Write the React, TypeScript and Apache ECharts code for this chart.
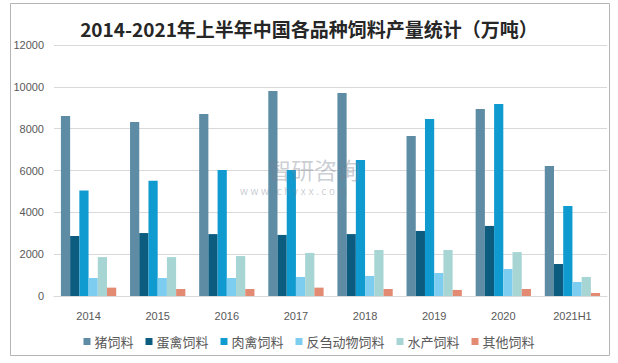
import React, { useEffect, useRef } from "react";
import * as echarts from "echarts";

const categories = ["2014", "2015", "2016", "2017", "2018", "2019", "2020", "2021H1"];
const seriesNames = ["猪饲料", "蛋禽饲料", "肉禽饲料", "反刍动物饲料", "水产饲料", "其他饲料"];
const pigFeed = [8600, 8320, 8700, 9800, 9700, 7650, 8940, 6220];
const layerFeed = [2870, 3010, 2960, 2920, 2960, 3110, 3350, 1530];
const broilerFeed = [5040, 5510, 6020, 6020, 6500, 8460, 9180, 4300];
const ruminantFeed = [860, 860, 860, 910, 960, 1100, 1290, 670];
const aquaFeed = [1860, 1860, 1910, 2060, 2200, 2200, 2100, 910];
const otherFeed = [400, 335, 335, 400, 335, 290, 335, 145];
const yTicks = [0, 2000, 4000, 6000, 8000, 10000, 12000];

const colors = ["#5e8ca5", "#0c5c80", "#109bd0", "#7dcdf0", "#a7d5d4", "#e38a72"];

export default function App() {
  const ref = useRef<HTMLDivElement>(null);
  useEffect(() => {
    if (!ref.current) return;
    const chart = echarts.init(ref.current, null, { renderer: "svg" });
    const values = [pigFeed, layerFeed, broilerFeed, ruminantFeed, aquaFeed, otherFeed];
    chart.setOption({
      animation: false,
      backgroundColor: "#ffffff",
      color: colors,
      title: {
        text: "2014-2021年上半年中国各品种饲料产量统计（万吨）",
        left: "center",
        top: 14,
        textStyle: {
          fontFamily: "'Noto Sans CJK SC', sans-serif",
          fontSize: 19,
          fontWeight: "bold",
          color: "#262626",
        },
      },
      graphic: [
        {
          type: "rect",
          shape: { x: 10.5, y: 3.5, width: 599, height: 352 },
          style: { fill: "none", stroke: "#b5b5b5", lineWidth: 1 },
          silent: true,
          z: 100,
        },
        {
          type: "text",
          left: 268,
          top: 157,
          style: {
            text: "智研咨询",
            fontSize: 23,
            fontFamily: "'Noto Sans CJK SC', sans-serif",
            fill: "rgba(120,130,145,0.4)",
          },
          z: 100,
          silent: true,
        },
        {
          type: "text",
          left: 240,
          top: 186,
          style: {
            text: "w w w . c h y x x . c o m",
            fontSize: 10,
            fontFamily: "'Noto Sans', sans-serif",
            fill: "rgba(120,130,145,0.4)",
          },
          z: 100,
          silent: true,
        },
      ],
      legend: {
        data: seriesNames,
        bottom: 10,
        left: "center",
        itemWidth: 7,
        itemHeight: 7,
        itemGap: 12,
        icon: "rect",
        textStyle: {
          fontSize: 13,
          color: "#595959",
          fontFamily: "'Noto Sans CJK SC', sans-serif",
          padding: [0, 0, 0, -1],
        },
      },
      grid: { left: 54, right: 11, top: 45, bottom: 67 },
      xAxis: {
        type: "category",
        data: categories,
        axisTick: { show: false },
        axisLine: { lineStyle: { color: "#d9d9d9" } },
        axisLabel: {
          color: "#595959",
          fontSize: 11,
          margin: 14,
          fontFamily: "'Liberation Sans', sans-serif",
        },
      },
      yAxis: {
        type: "value",
        min: yTicks[0],
        max: yTicks[yTicks.length - 1],
        interval: 2000,
        axisLine: { show: false },
        axisTick: { show: false },
        splitLine: { lineStyle: { color: "#d9d9d9" } },
        axisLabel: {
          color: "#595959",
          fontSize: 11,
          margin: 10,
          fontFamily: "'Liberation Sans', sans-serif",
          formatter: (v: number) => String(v),
        },
      },
      series: seriesNames.map((name, i) => ({
        name,
        type: "bar",
        data: values[i],
        barGap: "0%",
        barCategoryGap: "20%",
      })),
    });
    return () => chart.dispose();
  }, []);
  return (
    <div
      ref={ref}
      style={{ position: "fixed", left: 0, top: 0, width: 618, height: 363 }}
    />
  );
}
